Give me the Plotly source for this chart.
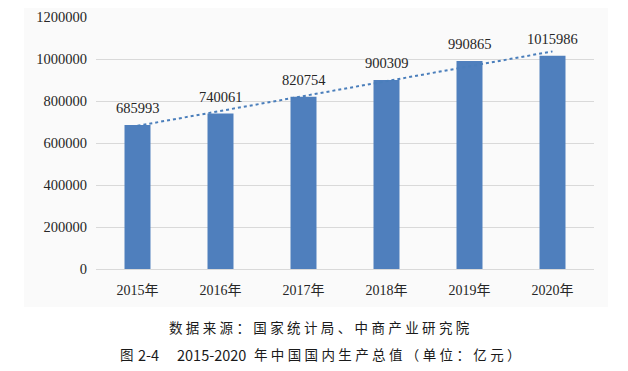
import plotly.graph_objects as go
import numpy as np

years = ["2015年", "2016年", "2017年", "2018年", "2019年", "2020年"]
gdp = [685993, 740061, 820754, 900309, 990865, 1015986]
y_ticks = [0, 200000, 400000, 600000, 800000, 1000000, 1200000]
source_text = "数据来源：国家统计局、中商产业研究院"
fig_no = "图"
fig_id = "2-4"
fig_years = "2015-2020"
fig_title = "年中国国内生产总值（单位：亿元）"

# linear trendline (least squares on category index)
idx = np.arange(len(gdp))
slope, intercept = np.polyfit(idx, gdp, 1)
trend = [intercept + slope * i for i in idx]

def spaced(s, sp="\u2005"):
    return sp.join(list(s))

# plot area in screen px (page has 8px body margin)
PX0, PX1, PY0, PY1 = 96, 594, 269, 17
def px(x):
    return (x - PX0) / (PX1 - PX0)
def py(y):
    return (PY0 - y) / (PY0 - PY1)

fig = go.Figure()
fig.add_trace(go.Bar(
    x=years, y=gdp,
    marker=dict(color="#4f7fbd", line=dict(width=0)),
    hoverinfo="x+y",
))
fig.add_trace(go.Scatter(
    x=years, y=trend, mode="lines",
    line=dict(color="#4a7ebb", width=2, dash="dot"),
    hoverinfo="skip",
))

cap_font = dict(family="Noto Sans CJK SC", size=13.5, color="#1a1a1a")
label_font = dict(family="Liberation Serif", size=14.5, color="#262626")

annotations = [
    dict(text=str(v), x=c, y=v, xref="x", yref="y", yshift=17,
         xanchor="center", yanchor="middle", showarrow=False, font=label_font)
    for c, v in zip(years, gdp)
]
annotations += [
    dict(text=spaced(source_text), xref="paper", yref="paper",
         x=px(167), y=py(327), xanchor="left", yanchor="middle",
         showarrow=False, font=cap_font),
    dict(text=fig_no, xref="paper", yref="paper",
         x=px(118), y=py(354), xanchor="left", yanchor="middle",
         showarrow=False, font=cap_font),
    dict(text=fig_id, xref="paper", yref="paper",
         x=px(136), y=py(354), xanchor="left", yanchor="middle",
         showarrow=False, font=dict(cap_font, size=14.5)),
    dict(text=fig_years, xref="paper", yref="paper",
         x=px(175), y=py(354), xanchor="left", yanchor="middle",
         showarrow=False, font=dict(cap_font, size=14.5)),
    dict(text=spaced(fig_title), xref="paper", yref="paper",
         x=px(252), y=py(354), xanchor="left", yanchor="middle",
         showarrow=False, font=cap_font),
]

fig.update_layout(
    width=628, height=371,
    margin=dict(l=PX0 - 8, r=628 - (PX1 - 8), t=PY1 - 8, b=371 - (PY0 - 8),
                autoexpand=False),
    paper_bgcolor="white", plot_bgcolor="rgba(0,0,0,0)",
    showlegend=False,
    bargap=0.687,
    font=dict(family="Liberation Serif, Noto Sans CJK SC", size=14, color="#262626"),
    xaxis=dict(
        showgrid=False, showline=True, linecolor="#d9d9d9", linewidth=1,
        ticks="", tickfont=dict(family="Liberation Serif, Noto Sans CJK SC", size=14, color="#262626"),
        ticklabelstandoff=8, automargin=False,
    ),
    yaxis=dict(
        range=[0, 1200000], tickvals=y_ticks, ticktext=[str(v) for v in y_ticks],
        showgrid=True, gridcolor="#d9d9d9", gridwidth=1, zeroline=False,
        ticks="", tickfont=dict(family="Liberation Serif", size=14.5, color="#262626"),
        ticklabelstandoff=8, automargin=False,
    ),
    shapes=[dict(
        type="rect", xref="paper", yref="paper",
        x0=px(24), x1=px(608), y0=py(307), y1=py(0),
        fillcolor="#fafafa", line=dict(width=0), layer="below",
    )],
    annotations=annotations,
)

fig.write_html("out.html")
